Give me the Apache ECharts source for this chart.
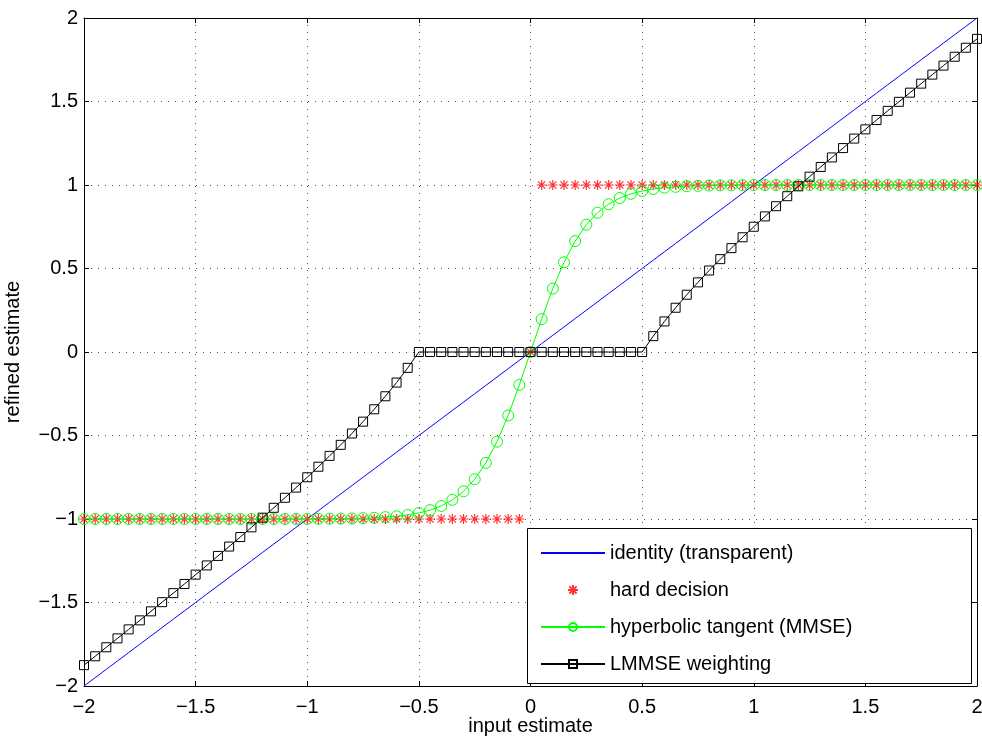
<!DOCTYPE html>
<html>
<head>
<meta charset="utf-8">
<script src="https://cdn.jsdelivr.net/npm/echarts@6/dist/echarts.min.js"></script>
<style>
html,body{margin:0;padding:0;background:#fff;}
#chart{width:982px;height:738px;}
</style>
</head>
<body>
<div id="chart"></div>
<script>
// input estimate grid
const xs = [-2,-1.95,-1.9,-1.85,-1.8,-1.75,-1.7,-1.65,-1.6,-1.55,-1.5,-1.45,-1.4,-1.35,-1.3,-1.25,-1.2,-1.15,-1.1,-1.05,-1,-0.95,-0.9,-0.85,-0.8,-0.75,-0.7,-0.65,-0.6,-0.55,-0.5,-0.45,-0.4,-0.35,-0.3,-0.25,-0.2,-0.15,-0.1,-0.05,0,0.05,0.1,0.15,0.2,0.25,0.3,0.35,0.4,0.45,0.5,0.55,0.6,0.65,0.7,0.75,0.8,0.85,0.9,0.95,1,1.05,1.1,1.15,1.2,1.25,1.3,1.35,1.4,1.45,1.5,1.55,1.6,1.65,1.7,1.75,1.8,1.85,1.9,1.95,2];
const identityY = [-2,-1.95,-1.9,-1.85,-1.8,-1.75,-1.7,-1.65,-1.6,-1.55,-1.5,-1.45,-1.4,-1.35,-1.3,-1.25,-1.2,-1.15,-1.1,-1.05,-1,-0.95,-0.9,-0.85,-0.8,-0.75,-0.7,-0.65,-0.6,-0.55,-0.5,-0.45,-0.4,-0.35,-0.3,-0.25,-0.2,-0.15,-0.1,-0.05,0,0.05,0.1,0.15,0.2,0.25,0.3,0.35,0.4,0.45,0.5,0.55,0.6,0.65,0.7,0.75,0.8,0.85,0.9,0.95,1,1.05,1.1,1.15,1.2,1.25,1.3,1.35,1.4,1.45,1.5,1.55,1.6,1.65,1.7,1.75,1.8,1.85,1.9,1.95,2];
const hardY = [-1,-1,-1,-1,-1,-1,-1,-1,-1,-1,-1,-1,-1,-1,-1,-1,-1,-1,-1,-1,-1,-1,-1,-1,-1,-1,-1,-1,-1,-1,-1,-1,-1,-1,-1,-1,-1,-1,-1,-1,0,1,1,1,1,1,1,1,1,1,1,1,1,1,1,1,1,1,1,1,1,1,1,1,1,1,1,1,1,1,1,1,1,1,1,1,1,1,1,1,1];
const tanhY = [-1,-1,-1,-1,-1,-1,-1,-1,-1,-1,-1,-1,-1,-1,-1,-1,-1,-1,-1,-1,-1,-0.999,-0.998,-0.998,-0.997,-0.995,-0.993,-0.989,-0.984,-0.976,-0.964,-0.947,-0.922,-0.885,-0.834,-0.762,-0.664,-0.537,-0.38,-0.197,0,0.197,0.38,0.537,0.664,0.762,0.834,0.885,0.922,0.947,0.964,0.976,0.984,0.989,0.993,0.995,0.997,0.998,0.998,0.999,1,1,1,1,1,1,1,1,1,1,1,1,1,1,1,1,1,1,1,1,1];
const lmmseY = [-1.875,-1.822,-1.768,-1.715,-1.661,-1.607,-1.553,-1.498,-1.444,-1.389,-1.333,-1.278,-1.221,-1.165,-1.108,-1.05,-0.992,-0.933,-0.873,-0.812,-0.75,-0.687,-0.622,-0.556,-0.488,-0.417,-0.343,-0.265,-0.183,-0.095,0,0,0,0,0,0,0,0,0,0,0,0,0,0,0,0,0,0,0,0,0,0.095,0.183,0.265,0.343,0.417,0.488,0.556,0.622,0.687,0.75,0.812,0.873,0.933,0.992,1.05,1.108,1.165,1.221,1.278,1.333,1.389,1.444,1.498,1.553,1.607,1.661,1.715,1.768,1.822,1.875];
const seriesNames = ['identity (transparent)','hard decision','hyperbolic tangent (MMSE)','LMMSE weighting'];
const xTitle = 'input estimate';
const yTitle = 'refined estimate';

const pair = ys => xs.map((x,i)=>[x, ys[i]]);
const fmt = v => v < 0 ? '\u2212' + Math.abs(v) : String(v);
const FONT = 'Liberation Sans, Arial, Helvetica, sans-serif';
const FS = 20;
const star = 'path://M0,-5L0,5M-5,0L5,0M-3.6,-3.6L3.6,3.6M-3.6,3.6L3.6,-3.6';

const chart = echarts.init(document.getElementById('chart'), null, {renderer:'canvas'});
const axisCommon = {
  type:'value', min:-2, max:2, interval:0.5,
  axisLine:{show:true, onZero:false, lineStyle:{color:'#000', width:1}},
  axisTick:{show:true, inside:true, length:5, lineStyle:{color:'#000', width:1}},
};
chart.setOption({
  animation:false,
  backgroundColor:'#fff',
  grid:{left:84, right:5, top:18, bottom:52, containLabel:false, outerBoundsMode:'none'},
  xAxis:[
    Object.assign({}, axisCommon, {position:'bottom',
      name:xTitle, nameLocation:'middle', nameGap:40, nameMoveOverlap:false,
      nameTextStyle:{fontFamily:FONT, fontSize:FS, color:'#000', verticalAlign:'middle'},
      axisLabel:{show:true, margin:11, fontFamily:FONT, fontSize:FS, color:'#000', formatter:fmt},
      splitLine:{show:true, lineStyle:{color:'#555', type:[1,6], width:1}}}),
    Object.assign({}, axisCommon, {position:'top', axisLabel:{show:false}, splitLine:{show:false}})
  ],
  yAxis:[
    Object.assign({}, axisCommon, {position:'left',
      name:yTitle, nameLocation:'middle', nameGap:61, nameRotate:90,
      nameTextStyle:{fontFamily:FONT, fontSize:FS, color:'#000'},
      axisLabel:{show:true, margin:6, fontFamily:FONT, fontSize:FS, color:'#000', formatter:fmt},
      splitLine:{show:true, lineStyle:{color:'#555', type:[1,6], width:1}}}),
    Object.assign({}, axisCommon, {position:'right', axisLabel:{show:false}, splitLine:{show:false}})
  ],
  graphic:[{
    type:'rect', z:50, silent:true,
    shape:{x:527.5, y:528.5, width:444, height:155},
    style:{fill:'#fff', stroke:'#000', lineWidth:1}
  }],
  legend:{
    z:60, orient:'vertical', left:535, top:538, itemGap:17,
    itemWidth:64, itemHeight:10,
    textStyle:{fontFamily:FONT, fontSize:FS, color:'#000'},
    data:[
      {name:seriesNames[0], itemStyle:{opacity:0}},
      seriesNames[1], seriesNames[2], seriesNames[3]
    ]
  },
  series:[
    {name:seriesNames[0], type:'line', data:pair(identityY), showSymbol:false, symbol:'none',
      lineStyle:{color:'#0000ff', width:1}, itemStyle:{color:'#0000ff'}, z:2},
    {name:seriesNames[1], type:'scatter', data:pair(hardY), symbol:star, symbolSize:10,
      itemStyle:{color:'#ff0000', borderColor:'#ff0000', borderWidth:1.2}, z:3},
    {name:seriesNames[2], type:'line', data:pair(tanhY), symbol:'circle', symbolSize:11, showAllSymbol:true,
      lineStyle:{color:'#00ff00', width:1},
      itemStyle:{color:'rgba(0,0,0,0)', borderColor:'#00ff00', borderWidth:1}, z:4},
    {name:seriesNames[3], type:'line', data:pair(lmmseY), symbol:'rect', symbolSize:9, showAllSymbol:true,
      lineStyle:{color:'#000', width:1},
      itemStyle:{color:'rgba(0,0,0,0)', borderColor:'#000', borderWidth:1}, z:5}
  ]
});
</script>
</body>
</html>
